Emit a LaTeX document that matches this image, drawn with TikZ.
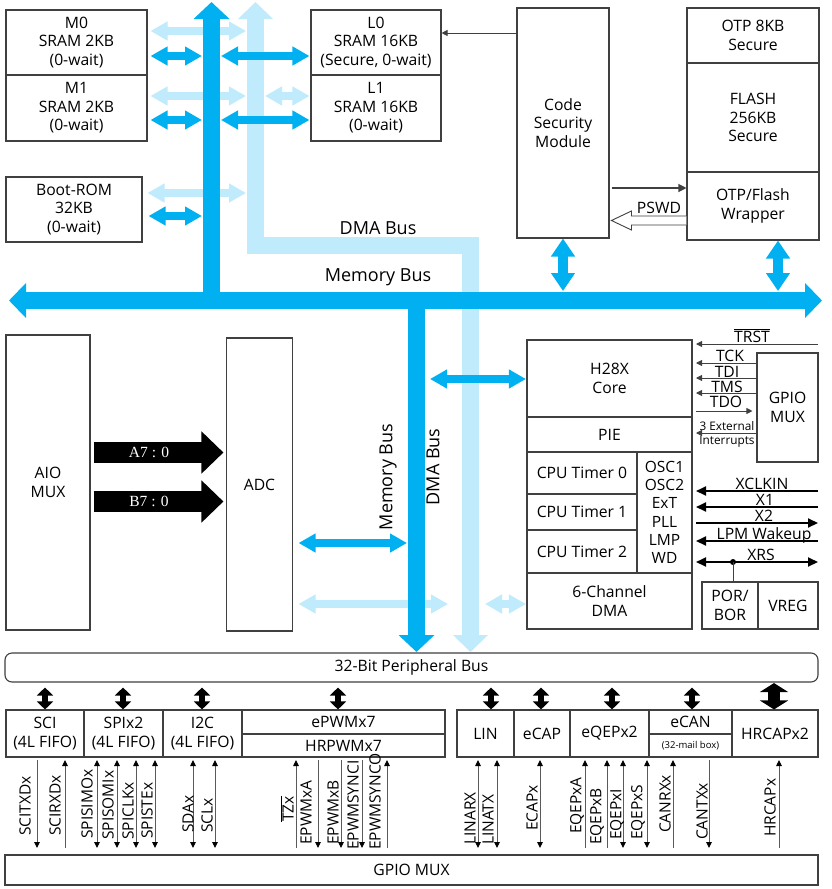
\documentclass[tikz,border=0pt]{standalone}
\usepackage{fontspec}
\setmainfont{Open Sans}
\newfontfamily\serifA{Liberation Serif}
\usetikzlibrary{arrows.meta,calc}
\definecolor{dkblue}{HTML}{00B0F0}
\definecolor{ltblue}{HTML}{BFEBFC}
\definecolor{boxgray}{HTML}{404040}
\definecolor{siggray}{HTML}{5A5A5A}
\newcommand\myfs{\fontsize{15.7}{18.5}\selectfont}
\newcommand\sigfs{\fontsize{15.5}{18}\selectfont}
\newcommand\busfs{\fontsize{18}{22}\selectfont}
\begin{document}
\begin{tikzpicture}[x=1pt,y=-1pt,
 box/.style={draw=boxgray,line width=1.1pt,inner sep=0pt,align=center,font=\myfs},
 lab/.style={inner sep=0pt,font=\myfs},
 dk/.style={draw=dkblue,line width=8pt,arrows={Triangle[length=17pt,width=18pt]-Triangle[length=17pt,width=18pt]}},
 lt/.style={draw=ltblue,line width=8pt,arrows={Triangle[length=17pt,width=18pt]-Triangle[length=17pt,width=18pt]}},
 vdk/.style={draw=dkblue,line width=10pt,arrows={Triangle[length=18pt,width=23pt]-Triangle[length=18pt,width=23pt]}},
 membus/.style={draw=dkblue,line width=17pt,line join=miter},
 dmabus/.style={draw=ltblue,line width=17pt,line join=miter},
 thinar/.style={draw=boxgray,line width=0.9pt},
 thkar/.style={draw=black,line width=2pt},
 perarr/.style={draw=black,line width=6pt,arrows={Triangle[length=8pt,width=16pt]-Triangle[length=8pt,width=16pt]}},
 sig/.style={draw=siggray,line width=0.9pt},
 sdn/.style={sig,arrows={-Triangle[length=6pt,width=5.5pt,color=black]}},
 sup/.style={sig,arrows={Triangle[length=6pt,width=5.5pt,color=black]-}},
 sud/.style={sig,arrows={Triangle[length=6pt,width=5.5pt,color=black]-Triangle[length=6pt,width=5.5pt,color=black]}},
 siglab/.style={inner sep=0pt,font=\sigfs,rotate=90,anchor=west},
]
\fill[white] (0,0) rectangle (831,889);
\useasboundingbox (0,0) rectangle (831,889);

% ---------- bus reference coordinates
\coordinate (MV) at (211.5,0);
\coordinate (DV) at (255.5,0);
\coordinate (MV2) at (416.5,0);
\coordinate (DV2) at (470.5,0);
\coordinate (busL) at (9,300.5);
\coordinate (busR) at (822,300.5);
\coordinate (ytop) at (0,2);
\coordinate (ybot) at (0,652);
\coordinate (dcorner) at (0,245.5);
\coordinate (jx) at (696,0);
\coordinate (rx) at (818,0);

% ---------- memory boxes
\node[box,minimum width=141pt,minimum height=65pt] (m0) at (76.5,42.5) {M0\\SRAM 2KB\\(0-wait)};
\node[box,minimum width=141pt,minimum height=66pt] (m1) at (76.5,108) {M1\\SRAM 2KB\\(0-wait)};
\node[box,minimum width=136pt,minimum height=65pt] (boot) at (74,209.5) {Boot-ROM\\32KB\\(0-wait)};
\node[box,minimum width=130pt,minimum height=65pt] (l0) at (376,42.5) {L0\\SRAM 16KB\\(Secure, 0-wait)};
\node[box,minimum width=130pt,minimum height=66pt] (l1) at (376,108) {L1\\SRAM 16KB\\(0-wait)};
\node[box,minimum width=92pt,minimum height=230pt] (csm) at (563,123) {Code\\Security\\Module};
\node[box,minimum width=132pt,minimum height=55pt] (otp) at (753,35.5) {OTP 8KB\\Secure};
\node[box,minimum width=132pt,minimum height=109pt] (flash) at (753,117.5) {FLASH\\256KB\\Secure};
\node[box,minimum width=132pt,minimum height=68pt] (wrap) at (753,206) {OTP/Flash\\Wrapper};

% ---------- middle
\node[box,minimum width=84pt,minimum height=295pt] (aio) at (48,482.5) {AIO\\MUX};
\node[box,minimum width=66pt,minimum height=293pt] (adc) at (259.5,484.5) {ADC};
\node[box,minimum width=165pt,minimum height=77pt] (core) at (609.5,378.5) {H28X\\Core};
\node[box,minimum width=165pt,minimum height=35pt] (pie) at (609.5,434.5) {PIE};
\node[box,minimum width=110pt,minimum height=42pt] (t0) at (582,473) {CPU Timer 0};
\node[box,minimum width=110pt,minimum height=36pt] (t1) at (582,512) {CPU Timer 1};
\node[box,minimum width=110pt,minimum height=43pt] (t2) at (582,551.5) {CPU Timer 2};
\node[box,minimum width=55pt,minimum height=121pt,font=\fontsize{15.5}{18.3}\selectfont] (osc) at (664.5,512.5) {OSC1\\OSC2\\ExT\\PLL\\LMP\\WD};
\node[box,minimum width=165pt,minimum height=56pt] (dma) at (609.5,601) {6-Channel\\DMA};
\node[box,minimum width=61pt,minimum height=109pt] (gpio1) at (787.5,407.5) {GPIO\\MUX};
\node[box,minimum width=56pt,minimum height=47pt] (por) at (730,605.5) {POR/\\BOR};
\node[box,minimum width=60pt,minimum height=47pt] (vreg) at (788,605.5) {VREG};

% ---------- bottom
\node[box,rounded corners=7pt,minimum width=813pt,minimum height=29pt] (pbus) at (411.5,667.5) {32-Bit Peripheral Bus};
\node[box,minimum width=78pt,minimum height=47pt] (sci) at (45,733.5) {SCI\\(4L FIFO)};
\node[box,minimum width=79pt,minimum height=47pt] (spi) at (123.5,733.5) {SPIx2\\(4L FIFO)};
\node[box,minimum width=79pt,minimum height=47pt] (i2c) at (202.5,733.5) {I2C\\(4L FIFO)};
\node[box,minimum width=203pt,minimum height=24pt] (epwm) at (343.5,722) {ePWMx7};
\node[box,minimum width=203pt,minimum height=23pt] (hrpwm) at (343.5,745.5) {HRPWMx7};
\node[box,minimum width=57pt,minimum height=47pt] (lin) at (485.5,733.5) {LIN};
\node[box,minimum width=56pt,minimum height=47pt] (ecap) at (542,733.5) {eCAP};
\node[box,minimum width=79pt,minimum height=47pt] (eqep) at (609.5,733.5) {eQEPx2};
\node[box,minimum width=83pt,minimum height=24pt] (ecan) at (690.5,722) {eCAN};
\node[box,minimum width=83pt,minimum height=23pt,font=\fontsize{9.5}{11}\selectfont] (ecanm) at (690.5,745.5) {(32-mail box)};
\node[box,minimum width=86pt,minimum height=47pt] (hrcap) at (775,733.5) {HRCAPx2};
\node[box,minimum width=813pt,minimum height=30pt] (gpio2) at (411.5,870) {GPIO MUX};

% ---------- light (DMA) small arrows
\draw[lt,shorten <=3pt,shorten >=9.5pt] (m0.east |- 0,31) -- (DV |- 0,31);
\draw[lt,shorten <=3pt,shorten >=9.5pt] (m1.east |- 0,96) -- (DV |- 0,96);
\draw[lt,shorten <=9.5pt,shorten >=1pt] (DV |- 0,96) -- (l1.west |- 0,96);
\draw[lt,shorten <=5pt,shorten >=9.5pt] (boot.east |- 0,193) -- (DV |- 0,193);
\draw[lt,shorten <=5.5pt,shorten >=22.5pt] (adc.east |- 0,604) -- (DV2 |- 0,604);
\draw[lt,shorten <=14.5pt,shorten >=0.5pt] (DV2 |- 0,604) -- (dma.west |- 0,604);

% ---------- DMA bus
\draw[dmabus,arrows={Triangle[length=17pt,width=34pt]-Triangle[length=17pt,width=34pt]}] (DV |- ytop) -- (DV |- dcorner) -- (DV2 |- dcorner) -- (DV2 |- ybot);

% ---------- memory bus
\draw[membus,arrows={Triangle[length=17pt,width=34pt]-Triangle[length=17pt,width=34pt]}] (busL) -- (busR);
\draw[membus,arrows={-Triangle[length=17pt,width=35pt]}] (MV |- busL) -- (MV |- ytop);
\draw[membus,arrows={-Triangle[length=17pt,width=35pt]}] (MV2 |- busL) -- (MV2 |- ybot);

% ---------- dark small arrows
\draw[dk,shorten <=3pt,shorten >=9.5pt] (m0.east |- 0,56) -- (MV |- 0,56);
\draw[dk,shorten <=9.5pt,shorten >=1pt] (MV |- 0,56) -- (l0.west |- 0,56);
\draw[dk,shorten <=3pt,shorten >=9.5pt] (m1.east |- 0,120) -- (MV |- 0,120);
\draw[dk,shorten <=9.5pt,shorten >=1pt] (MV |- 0,120) -- (l1.west |- 0,120);
\draw[dk,shorten <=6pt,shorten >=9.5pt] (boot.east |- 0,216) -- (MV |- 0,216);
\draw[dk,shorten <=5.5pt,shorten >=9.5pt] (adc.east |- 0,543) -- (MV2 |- 0,543);
\draw[dk,shorten <=13.5pt,shorten >=0.5pt] (MV2 |- 0,379) -- (core.west |- 0,379);
\coordinate (wrapar) at ($(wrap.south)+(25,0)$);
\draw[vdk,shorten >=9.5pt] (csm.south) -- (csm.south |- busL);
\draw[vdk,shorten >=9.5pt] (wrapar) -- (wrapar |- busL);

% ---------- bus labels
\node[lab,font=\busfs] (dmalab) at (378,228) {DMA Bus};
\node[lab,font=\busfs] (memlab) at (378,277) {Memory Bus};
\node[lab,font=\busfs,rotate=90] (memlabv) at (388,477) {Memory Bus};
\node[lab,font=\busfs,rotate=90] (dmalabv) at (433,467) {DMA Bus};

% ---------- security arrows
\draw[thinar,-{Triangle[length=6pt,width=6pt]}] (csm.west |- 0,33) -- (l0.east |- 0,33);
\draw[thinar,line width=1.2pt,-{Triangle[length=8pt,width=8pt]},shorten <=2pt] (csm.east |- 0,188) -- (wrap.west |- 0,188);
\draw[boxgray,line width=0.9pt,fill=white] ($(wrap.west)+(0,10)$) -- ++(-55,0) -- ++(0,-5) -- ++(-20,9.5) -- ++(20,9.5) -- ++(0,-5) -- ++(55,0);
\node[lab,anchor=base] (pswd) at (659,213) {PSWD};

% ---------- ADC input arrows
\draw[black,line width=21pt,-{Triangle[length=22pt,width=41pt]},shorten <=3pt,shorten >=2.5pt] (aio.east |- 0,452.5) -- (adc.west |- 0,452.5);
\draw[black,line width=21pt,-{Triangle[length=22pt,width=41pt]},shorten <=3pt,shorten >=2.5pt] (aio.east |- 0,501.5) -- (adc.west |- 0,501.5);
\node[lab,text=white,font=\serifA\fontsize{15.5}{18}\selectfont] (alab) at (149,452.5) {A7 : 0};
\node[lab,text=white,font=\serifA\fontsize{15.5}{18}\selectfont] (blab) at (149,501.5) {B7 : 0};

% ---------- JTAG and clock signals
\draw[thinar,{Triangle[length=6pt,width=6pt]}-] (jx |- 0,344) -- (rx |- 0,344);
\node[lab,anchor=base] (trst) at (752,342) {$\overline{\hbox{TRST}}$};
\draw[thinar,{Triangle[length=6pt,width=6pt]}-] (jx |- 0,363) -- (gpio1.west |- 0,363);
\node[lab,anchor=base] (tck) at (730,361.5) {TCK};
\draw[thinar,{Triangle[length=6pt,width=6pt]}-] (jx |- 0,378) -- (gpio1.west |- 0,378);
\node[lab,anchor=base] (tdi) at (727,377) {TDI};
\draw[thinar,{Triangle[length=6pt,width=6pt]}-] (jx |- 0,393) -- (gpio1.west |- 0,393);
\node[lab,anchor=base] (tms) at (727,392) {TMS};
\draw[thinar,-{Triangle[length=6pt,width=6pt]},shorten >=4pt] (jx |- 0,411) -- (gpio1.west |- 0,411);
\node[lab,anchor=base] (tdo) at (726,407.5) {TDO};
\draw[thinar,{Triangle[length=6pt,width=6pt]}-] (jx |- 0,433) -- (gpio1.west |- 0,433);
\node[lab,align=center,font=\fontsize{11.8}{14.5}\selectfont] (xint) at (727,434.5) {3 External\\Interrupts};

\draw[thkar,{Triangle[length=10pt,width=9pt]}-] (jx |- 0,491) -- (rx |- 0,491);
\node[lab,anchor=base] (xclkin) at (762,489.5) {XCLKIN};
\draw[thkar,{Triangle[length=10pt,width=9pt]}-] (jx |- 0,507) -- (rx |- 0,507);
\node[lab,anchor=base] (x1) at (765,505.5) {X1};
\draw[thkar,-{Triangle[length=10pt,width=9pt]}] (jx |- 0,523) -- (rx |- 0,523);
\node[lab,anchor=base] (x2) at (764,521.5) {X2};
\draw[thkar,{Triangle[length=10pt,width=9pt]}-] (jx |- 0,541) -- (rx |- 0,541);
\node[lab,anchor=base] (lpm) at (764,539) {LPM Wakeup};
\draw[thkar,{Triangle[length=10pt,width=9pt]}-{Triangle[length=10pt,width=9pt]}] (jx |- 0,562) -- (rx |- 0,562);
\node[lab,anchor=base] (xrs) at (761,560) {XRS};
\coordinate (xrsdot) at (733,562);
\fill[black] (xrsdot) circle (3pt);
\draw[thinar] (xrsdot) -- (xrsdot |- por.north);

% ---------- peripheral bus arrows
\foreach \x/\n in {45/sci,123/spi,202/i2c,338/epwm,491/lin,541/ecap,612/eqep,692/ecan}
  \draw[perarr,shorten <=5pt] (\x,0 |- pbus.south) -- (\x,0 |- \n.north);
\draw[draw=black,line width=12pt,arrows={Triangle[length=9pt,width=28pt]-Triangle[length=9pt,width=28pt]},shorten <=0.5pt] (774,0 |- pbus.south) -- (774,0 |- hrcap.north);

% ---------- peripheral signals
\coordinate (stop) at (0,760);
\coordinate (sbot) at (0,848);
\foreach \lx/\ly/\sx/\txt/\tp in {25/836/37/SCITXDx/sdn, 55/836/65/SCIRXDx/sup, 87/839/97/SPISIMOx/sud, 108/840/117/SPISOMIx/sud, 128/840/136/SPICLKx/sud, 147/839/155/SPISTEx/sud, 188/833/193/SDAx/sud, 207/833/215/SCLx/sud, 287/822/296/{$\overline{\hbox{TZx}}$}/sup, 306/845/318/EPWMxA/sdn, 333/845/341/EPWMxB/sdn, 353/850/362/EPWMSYNCI/sdn, 375/850/387/EPWMSYNCO/sup, 470/845/478/LINARX/sud, 488/845/497/LINATX/sud, 532/831/540/ECAPx/sud, 577/834/585/EQEPxA/sup, 597/845/607/EQEPxB/sup, 617/840/623/EQEPxI/sud, 638/840/647/EQEPxS/sud, 665/833/673/CANRXx/sup, 702/840/709/CANTXx/sdn, 770/837/779/HRCAPx/sup}
{
  \draw[\tp] (\sx,0 |- stop) -- (\sx,0 |- sbot);
  \node[siglab] (s\sx) at (\lx,\ly) {\txt};
}
\end{tikzpicture}
\end{document}
